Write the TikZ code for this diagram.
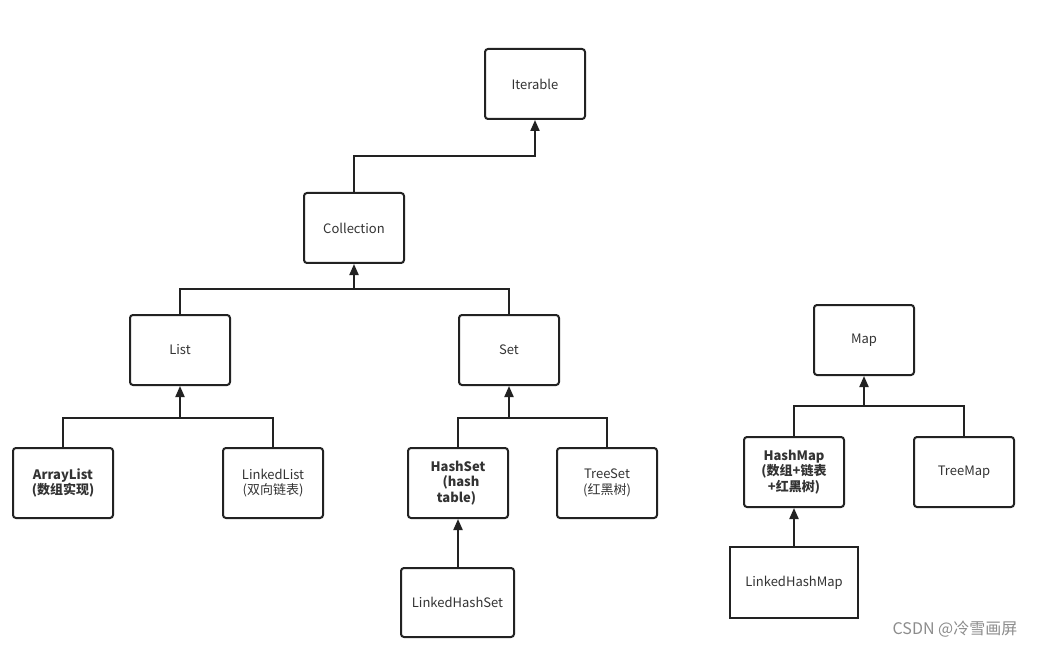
\documentclass[tikz,border=0pt]{standalone}
\usepackage{fontspec}
\setmainfont{Noto Sans CJK SC}
\usetikzlibrary{arrows.meta}
\definecolor{txt}{HTML}{333333}
\definecolor{ln}{HTML}{222222}
\tikzset{
  box/.style={draw=ln, line width=2pt, rounded corners=3pt, minimum width=100pt, minimum height=70pt, text=txt, font=\fontsize{13}{15.5}\selectfont, align=center, inner sep=2pt},
  sqbox/.style={box, rounded corners=0pt},
  conn/.style={draw=ln, line width=2pt},
  arr/.style={conn, -{Triangle[length=11pt,width=9pt]}},
}
\begin{document}
\begin{tikzpicture}[x=1pt,y=-1pt]
\useasboundingbox[fill=white] (0,0) rectangle (1039,647);
\node[box] (iter) at (535,84) {Iterable};
\node[box] (coll) at (354,228) {Collection};
\node[box] (list) at (180,350) {List};
\node[box] (set) at (509,350) {Set};
\node[box] (alist) at (63,483) {\textbf{ArrayList}\\\textbf{(数组实现)}};
\node[box] (llist) at (273,483) {LinkedList\\(双向链表)};
\node[box] (hset) at (458,483) {\textbf{HashSet}\\\textbf{\ \ (hash}\\\textbf{table)\ \ }};
\node[box] (tset) at (607,483) {TreeSet\\(红黑树)};
\node[box, minimum width=113pt, minimum height=69pt] (lhset) at (457.5,602.5) {LinkedHashSet};
\node[box] (map) at (864,340) {Map};
\node[box] (hmap) at (794,472) {\textbf{HashMap}\\\textbf{(数组+链表}\\\textbf{+红黑树)}};
\node[box] (tmap) at (964,472) {TreeMap};
\node[sqbox, minimum width=128pt, minimum height=71pt] (lhmap) at (794,582.5) {LinkedHashMap};

\coordinate (b1) at (354,156);
\coordinate (b2) at (354,289);
\coordinate (b3) at (180,418);
\coordinate (b4) at (509,418);
\coordinate (b5) at (864,406);

\draw[arr] (coll.north) -- (b1) -| (iter.south);
\draw[conn] (list.north) |- (b2) -| (set.north);
\draw[arr] (b2) -- (coll.south);
\draw[conn] (alist.north) |- (b3) -| (llist.north);
\draw[arr] (b3) -- (list.south);
\draw[conn] (hset.north) |- (b4) -| (tset.north);
\draw[arr] (b4) -- (set.south);
\draw[arr] (lhset.north -| hset.south) -- (hset.south);
\draw[conn] (hmap.north) |- (b5) -| (tmap.north);
\draw[arr] (b5) -- (map.south);
\draw[arr] (lhmap.north) -- (hmap.south);

\node[text=black!45, font=\fontsize{16}{18}\selectfont, anchor=center] (wm) at (955,629) {CSDN @冷雪画屏};
\end{tikzpicture}
\end{document}
